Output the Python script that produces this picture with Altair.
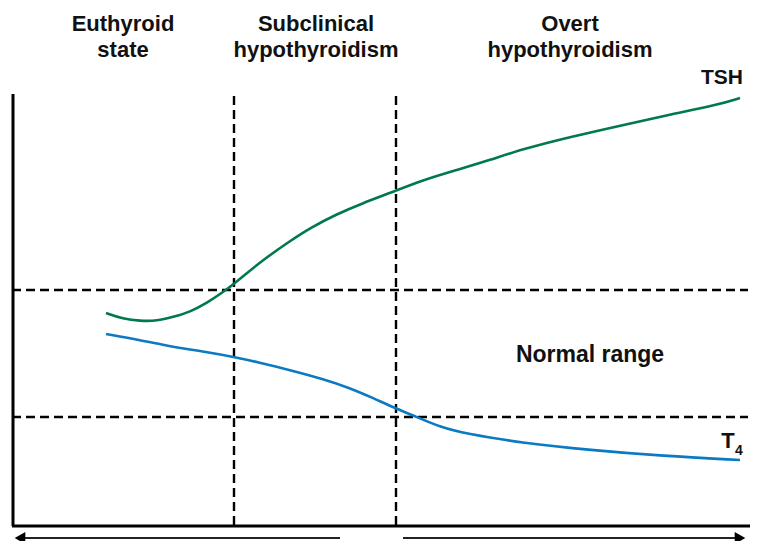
import altair as alt
import pandas as pd

# ---- data (schematic units: x = disease progression, y = hormone level) ----
tsh_x = [106, 123, 140, 157, 173, 190, 207, 223, 234, 247, 263, 290, 310, 337, 363,
         390, 423, 457, 490, 523, 570, 623, 673, 717, 740]
tsh_y = [213, 207, 205, 205, 209, 214, 223, 234, 242, 253, 266, 285, 298, 312, 323,
         333, 346, 356, 366, 377, 389, 401, 412, 421, 428]

t4_x = [106, 140, 173, 207, 234, 257, 290, 323, 350, 373, 397, 417, 440, 467, 523,
        590, 663, 740]
t4_y = [192, 186, 179, 174, 169, 164, 156, 147, 138, 128, 117, 109, 99, 92, 83,
        76, 70, 66]

normal_range = [109, 236]          # lower / upper limit of normal range
stage_bounds = [234, 396]          # euthyroid | subclinical | overt
stage_labels = [["Euthyroid", "state"], ["Subclinical", "hypothyroidism"],
                ["Overt", "hypothyroidism"]]
stage_centers = [123, 316, 570]

GREEN = "#00794B"
BLUE = "#0A7AC2"
FONT = "Liberation Sans"

xs = alt.Scale(domain=[8, 750], nice=False, zero=False)
ys = alt.Scale(domain=[-15, 518], nice=False, zero=False)


def X(f):
    return alt.X(f, type="quantitative", scale=xs, axis=None)


def Y(f):
    return alt.Y(f, type="quantitative", scale=ys, axis=None)


curves = pd.DataFrame(
    {"x": tsh_x + t4_x, "y": tsh_y + t4_y,
     "hormone": ["TSH"] * len(tsh_x) + ["T4"] * len(t4_x)})

lines = alt.Chart(curves).mark_line(interpolate="basis", strokeWidth=2.6).encode(
    x=X("x"), y=Y("y"),
    color=alt.Color("hormone:N", scale=alt.Scale(domain=["TSH", "T4"], range=[GREEN, BLUE]),
                    legend=None))

# axes drawn as rules
axes_df = pd.DataFrame({"x": [13, 12], "x2": [13, 760], "y": [0, 0], "y2": [432, 0]})
axes = alt.Chart(axes_df).mark_rule(color="black", strokeWidth=3).encode(
    x=X("x"), x2="x2", y=Y("y"), y2="y2")

hd_df = pd.DataFrame({"y": normal_range, "x": [12, 12], "x2": [748, 748]})
hdash = alt.Chart(hd_df).mark_rule(
    color="black", strokeWidth=2.4, strokeDash=[9, 5]).encode(
    x=X("x"), x2="x2", y=Y("y"))

vd_df = pd.DataFrame({"x": stage_bounds, "y": [1, 1], "y2": [431, 431]})
vdash = alt.Chart(vd_df).mark_rule(
    color="black", strokeWidth=2.4, strokeDash=[9, 5]).encode(
    x=X("x"), y=Y("y"), y2="y2")

# stage titles
rows = []
for lab, cx in zip(stage_labels, stage_centers):
    rows.append({"x": cx, "y": 495, "t": lab[0]})
    rows.append({"x": cx, "y": 469, "t": lab[1]})
titles = alt.Chart(pd.DataFrame(rows)).mark_text(
    font=FONT, fontWeight="bold", fontSize=22, baseline="alphabetic", color="#111").encode(
    x=X("x"), y=Y("y"), text="t:N")

ann = pd.DataFrame({"x": [722, 590], "y": [442, 164], "t": ["TSH", "Normal range"],
                    "fs": [21, 23]})
annot = alt.Chart(ann).mark_text(
    font=FONT, fontWeight="bold", baseline="alphabetic", color="#111").encode(
    x=X("x"), y=Y("y"), text="t:N", size=alt.Size("fs:Q", scale=None, legend=None))
t_main = alt.Chart(pd.DataFrame({"x": [728], "y": [78], "t": ["T"]})).mark_text(
    font=FONT, fontWeight="bold", fontSize=22, baseline="alphabetic", color="#111").encode(
    x=X("x"), y=Y("y"), text="t:N")
sub = alt.Chart(pd.DataFrame({"x": [735], "y": [71], "t": ["4"]})).mark_text(
    font=FONT, fontWeight="bold", fontSize=14, baseline="alphabetic", align="left",
    color="#111").encode(x=X("x"), y=Y("y"), text="t:N")

# progression arrows
arr_df = pd.DataFrame({"x": [22, 403], "x2": [340, 738], "y": [-12, -12]})
arr_lines = alt.Chart(arr_df).mark_rule(color="#222", strokeWidth=2.2).encode(
    x=X("x"), x2="x2", y=Y("y"))
head_l = alt.Chart(pd.DataFrame({"x": [20], "y": [-12]})).mark_point(
    filled=True, size=150, color="black", opacity=1, shape="triangle-left").encode(
    x=X("x"), y=Y("y"))
head_r = alt.Chart(pd.DataFrame({"x": [740], "y": [-12]})).mark_point(
    filled=True, size=150, color="black", opacity=1, shape="triangle-right").encode(
    x=X("x"), y=Y("y"))

chart = alt.layer(hdash, vdash, axes, lines, titles, annot, t_main, sub, arr_lines,
                  head_l, head_r).properties(
    width=742, height=533, padding=0, autosize=alt.AutoSizeParams(type="none"),
    background="white").configure_view(stroke=None)

chart.save("out.html", embed_options={"renderer": "svg", "actions": False})
